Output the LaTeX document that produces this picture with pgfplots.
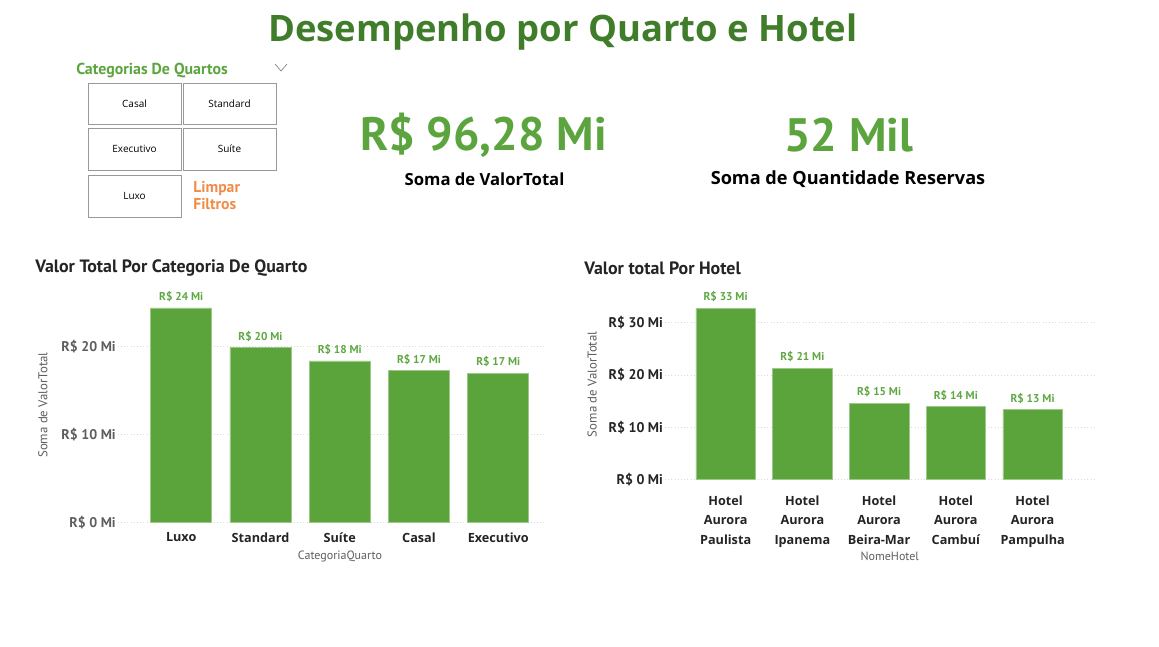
\documentclass[border=0pt]{standalone}
\usepackage{pgfplots}
\pgfplotsset{compat=1.18}
\usepackage{fontspec}
\setmainfont{Open Sans}
\newfontfamily\din{PT Sans}
\definecolor{bargreen}{HTML}{5BA33B}
\definecolor{lblgreen}{HTML}{5EA843}
\definecolor{titlegreen}{HTML}{407D2A}
\definecolor{kpigreen}{HTML}{5CA53E}
\definecolor{darktxt}{HTML}{252423}
\definecolor{graytxt}{HTML}{605E5C}
\definecolor{orangetxt}{HTML}{F08C4A}
\definecolor{gridc}{HTML}{D8D8D8}
\pgfplotsset{
  dashbar/.style={
    ybar, scale only axis, ymin=0,
    axis line style={draw=none}, tick style={draw=none},
    ymajorgrids, grid style={gridc, dotted, line width=0.6pt},
    xtick=data,
    point meta=explicit symbolic,
    nodes near coords,
    every node near coord/.append style={font=\din\bfseries\fontsize{8.5}{10}\selectfont, text=lblgreen, yshift=1pt},
    xticklabel style={font=\bfseries\fontsize{9.5}{14.6}\selectfont, text=darktxt, align=center},
    yticklabel style={font=\din\bfseries\fontsize{10.5}{12}\selectfont, xshift=2pt},
    ylabel style={font=\din\fontsize{9.6}{11}\selectfont, text=graytxt},
    xlabel style={font=\din\fontsize{9}{10}\selectfont, text=graytxt},
    clip=false,
  }
}
\begin{document}
\begin{tikzpicture}
\path[fill=white] (0,0) rectangle (869.25pt,484.5pt);
% Title
\node[text=titlegreen, font=\bfseries\fontsize{27}{30}\selectfont] at (422.25pt,460.5pt) {\resizebox{442pt}{!}{Desempenho por Quarto e Hotel}};
% Slicer
\node[anchor=west, inner sep=0pt, text=kpigreen, font=\din\bfseries\fontsize{11.9}{13}\selectfont] at (57pt,431.25pt) {Categorias De Quartos};
\draw[gray, line width=0.5pt] (206.25pt,436.5pt) -- (210.75pt,431.25pt) -- (215.25pt,436.5pt);
\begin{scope}[draw=black!40, line width=0.6pt]
\draw (66pt,422.25pt) rectangle (135.75pt,391.5pt);
\draw (137.25pt,422.25pt) rectangle (207pt,391.5pt);
\draw (66pt,388.5pt) rectangle (135.75pt,357pt);
\draw (137.25pt,388.5pt) rectangle (207pt,357pt);
\draw (66pt,353.25pt) rectangle (135.75pt,321.75pt);
\end{scope}
\begin{scope}[font=\fontsize{7.5}{9}\selectfont]
\node at (100.9pt,406.9pt) {Casal};
\node at (172.1pt,406.9pt) {Standard};
\node at (100.9pt,372.75pt) {Executivo};
\node at (172.1pt,372.75pt) {Suíte};
\node at (100.9pt,337.5pt) {Luxo};
\end{scope}
\node[anchor=north west, align=left, inner sep=0pt, text=orangetxt, font=\din\bfseries\fontsize{11.8}{13}\selectfont] at (144.75pt,349pt) {Limpar\\Filtros};
% KPIs
\node[text=kpigreen, font=\din\bfseries\fontsize{42}{44}\selectfont] at (362.6pt,383.25pt) {\resizebox{185pt}{!}{R\$ 96,28 Mi}};
\node[text=kpigreen, font=\din\bfseries\fontsize{42}{44}\selectfont] at (636.4pt,383.25pt) {\resizebox{96.75pt}{!}{52 Mil}};
\node[text=black, font=\bfseries\fontsize{12.5}{14}\selectfont] at (363.4pt,350pt) {Soma de ValorTotal};
\node[text=black, font=\bfseries\fontsize{13.6}{15}\selectfont] at (636pt,350pt) {Soma de Quantidade Reservas};
% Chart titles
\node[anchor=west, inner sep=0pt, text=darktxt, font=\din\bfseries\fontsize{13.4}{15}\selectfont] at (26.25pt,283.5pt) {Valor Total Por Categoria De Quarto};
\node[anchor=west, inner sep=0pt, text=darktxt, font=\din\bfseries\fontsize{13.4}{15}\selectfont] at (438pt,283.5pt) {Valor total Por Hotel};
% Chart 1
\begin{axis}[dashbar,
  at={(88.35pt,92.48pt)}, anchor=south west,
  width=321pt, height=171.6pt,
  xmin=-0.8, xmax=4.6, ymax=26,
  bar width=45.75pt,
  ytick={0,10,20}, yticklabels={R\$ 0 Mi, R\$ 10 Mi, R\$ 20 Mi},
  yticklabel style={text=graytxt},
  xticklabels={Luxo, Standard, Suíte, Casal, Executivo},
  xticklabel style={yshift=0.5pt},
  ylabel={Soma de ValorTotal},
  ylabel style={at={(axis description cs:-0.175,0.514)}, anchor=center},
  xlabel={CategoriaQuarto},
  xlabel style={at={(axis description cs:0.519,-0.146)}, anchor=center},
]
\addplot[fill=bargreen, draw=bargreen!60!white, line width=0.4pt] coordinates {
 (0,24.4)[R\$ 24 Mi] (1,19.9)[R\$ 20 Mi] (2,18.4)[R\$ 18 Mi] (3,17.3)[R\$ 17 Mi] (4,17.0)[R\$ 17 Mi]};
\end{axis}
% Chart 2
\begin{axis}[dashbar,
  at={(498.75pt,125pt)}, anchor=south west,
  width=321.75pt, height=137pt,
  xmin=-0.79, xmax=4.8, ymax=35,
  bar width=44.6pt,
  ytick={0,10,20,30}, yticklabels={R\$ 0 Mi, R\$ 10 Mi, R\$ 20 Mi, R\$ 30 Mi},
  yticklabel style={text=darktxt},
  xticklabels={{Hotel\\Aurora\\Paulista},{Hotel\\Aurora\\Ipanema},{Hotel\\Aurora\\Beira-Mar},{Hotel\\Aurora\\Cambuí},{Hotel\\Aurora\\Pampulha}},
  xticklabel style={yshift=-4.5pt},
  ylabel={Soma de ValorTotal},
  ylabel style={at={(axis description cs:-0.170,0.52)}, anchor=center},
  xlabel={NomeHotel},
  xlabel style={at={(axis description cs:0.524,-0.42)}, anchor=center},
]
\addplot[fill=bargreen, draw=bargreen!60!white, line width=0.4pt] coordinates {
 (0,32.8)[R\$ 33 Mi] (1,21.3)[R\$ 21 Mi] (2,14.6)[R\$ 15 Mi] (3,14.0)[R\$ 14 Mi] (4,13.4)[R\$ 13 Mi]};
\end{axis}
\end{tikzpicture}
\end{document}
